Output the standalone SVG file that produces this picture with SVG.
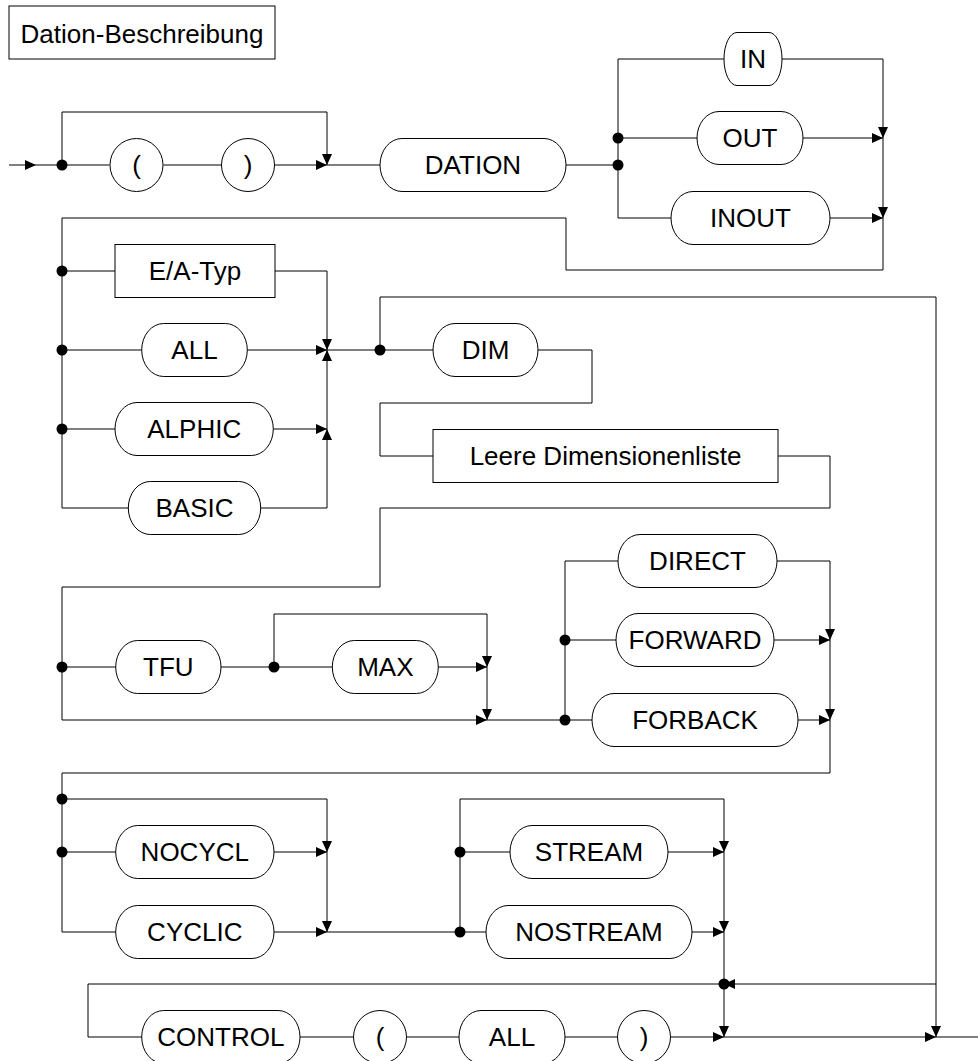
<svg xmlns="http://www.w3.org/2000/svg" width="978" height="1061" viewBox="0 0 978 1061">
  <style>
    .box { fill: #fff; stroke: #000; stroke-width: 1; }
    .lbl { font-family: "Liberation Sans", Arial, sans-serif; font-size: 26px; fill: #000; text-anchor: middle; }
    .ln { fill: none; stroke: #000; stroke-width: 1; }
    .ar { fill: none; stroke: #000; stroke-width: 1; marker-end: url(#tip); }
    .dot { fill: #000; }
  </style>
  <defs>
    <marker id="tip" viewBox="0 0 10 10" refX="10" refY="5" markerWidth="11" markerHeight="10" preserveAspectRatio="none" markerUnits="userSpaceOnUse" orient="auto">
      <path d="M0,0 L10,5 L0,10 z" fill="#000"/>
    </marker>
  </defs>

  <rect width="978" height="1061" fill="#fff"/>

  <!-- connectors -->
  <g id="connectors">
    <!-- row 1: optional parentheses, DATION, direction -->
    <path class="ar" d="M9,165 H36"/>
    <path class="ln" d="M36,165 H109.5"/>
    <path class="ar" d="M62,165 V112 H327 V165"/>
    <path class="ln" d="M163.5,165 H221.5"/>
    <path class="ar" d="M274.5,165 H327"/>
    <path class="ln" d="M327,165 H380"/>
    <path class="ln" d="M566,165 H618"/>
    <path class="ln" d="M618,59 V218"/>
    <path class="ln" d="M618,59 H724"/>
    <path class="ar" d="M782,59 H883 V138"/>
    <path class="ln" d="M618,138 H697"/>
    <path class="ar" d="M803,138 H883"/>
    <path class="ar" d="M883,138 V218"/>
    <path class="ln" d="M618,218 H671"/>
    <path class="ar" d="M830,218 H883"/>
    <path class="ln" d="M883,218 V270 H566 V218 H62 V508 H128.3"/>

    <!-- device type choice -->
    <path class="ln" d="M62,271 H115"/>
    <path class="ar" d="M275,271 H327 V350"/>
    <path class="ln" d="M62,350 H141.7"/>
    <path class="ar" d="M247.3,350 H327"/>
    <path class="ln" d="M62,429 H115"/>
    <path class="ar" d="M273.3,429 H327"/>
    <path class="ar" d="M260.7,508 H327 V429"/>
    <path class="ar" d="M327,429 V350"/>
    <path class="ln" d="M327,350 H433"/>

    <!-- dimension part and long bypass -->
    <path class="ar" d="M380,350 V297 H936 V1037"/>
    <path class="ln" d="M538,350 H592 V403 H380 V456 H433"/>
    <path class="ln" d="M778,456 H830 V508 H380 V587 H62 V720"/>

    <!-- TFU / MAX -->
    <path class="ln" d="M62,667 H115.7"/>
    <path class="ln" d="M221,667 H332.3"/>
    <path class="ar" d="M274,667 V614 H487 V667"/>
    <path class="ar" d="M438.3,667 H487"/>
    <path class="ar" d="M487,667 V720"/>
    <path class="ar" d="M62,720 H487"/>
    <path class="ln" d="M487,720 H592"/>

    <!-- access mode -->
    <path class="ln" d="M565,720 V561 H618"/>
    <path class="ln" d="M565,640 H616"/>
    <path class="ar" d="M777,561 H830 V640"/>
    <path class="ar" d="M774,640 H830"/>
    <path class="ar" d="M830,640 V720"/>
    <path class="ar" d="M798,720 H830"/>
    <path class="ln" d="M830,720 V773 H62 V932 H115.7"/>

    <!-- cycle option -->
    <path class="ar" d="M62,799 H327 V852"/>
    <path class="ln" d="M62,852 H115.7"/>
    <path class="ar" d="M274,852 H327"/>
    <path class="ar" d="M327,852 V932"/>
    <path class="ar" d="M274,932 H327"/>
    <path class="ln" d="M327,932 H486"/>

    <!-- stream option -->
    <path class="ar" d="M460,932 V799 H724 V852"/>
    <path class="ln" d="M460,852 H510"/>
    <path class="ar" d="M668,852 H724"/>
    <path class="ar" d="M724,852 V932"/>
    <path class="ar" d="M692,932 H724"/>
    <path class="ar" d="M724,932 V1037"/>

    <!-- control part -->
    <path class="ar" d="M936,984 H724"/>
    <path class="ln" d="M724,984 H88 V1037 H141.7"/>
    <path class="ln" d="M300,1037 H353.5"/>
    <path class="ln" d="M406.5,1037 H459"/>
    <path class="ln" d="M565,1037 H617.5"/>
    <path class="ar" d="M670.5,1037 H724"/>
    <path class="ar" d="M724,1037 H936"/>
    <path class="ln" d="M936,1037 H978"/>

    <!-- junction points -->
    <circle class="dot" cx="62" cy="165" r="5.5"/>
    <circle class="dot" cx="618" cy="138" r="5.5"/>
    <circle class="dot" cx="618" cy="165" r="5.5"/>
    <circle class="dot" cx="62" cy="271" r="5.5"/>
    <circle class="dot" cx="62" cy="350" r="5.5"/>
    <circle class="dot" cx="62" cy="429" r="5.5"/>
    <circle class="dot" cx="380" cy="350" r="5.5"/>
    <circle class="dot" cx="62" cy="667" r="5.5"/>
    <circle class="dot" cx="274" cy="667" r="5.5"/>
    <circle class="dot" cx="565" cy="640" r="5.5"/>
    <circle class="dot" cx="565" cy="720" r="5.5"/>
    <circle class="dot" cx="62" cy="799" r="5.5"/>
    <circle class="dot" cx="62" cy="852" r="5.5"/>
    <circle class="dot" cx="460" cy="852" r="5.5"/>
    <circle class="dot" cx="460" cy="932" r="5.5"/>
    <circle class="dot" cx="724" cy="984" r="5.5"/>
  </g>

  <!-- nodes -->
  <g id="title"><rect class="box" x="9" y="6" width="266" height="53"/><text class="lbl" x="142" y="43">Dation-Beschreibung</text></g>

  <g id="paren-open-1"><circle class="box" cx="136.5" cy="165" r="26.5"/><text class="lbl" x="136.5" y="174.3">(</text></g>
  <g id="paren-close-1"><circle class="box" cx="248" cy="165" r="26.5"/><text class="lbl" x="248" y="174.3">)</text></g>
  <g id="dation"><rect class="box" x="380" y="138.5" width="186" height="53" rx="22" ry="26.5"/><text class="lbl" x="473" y="174.3">DATION</text></g>
  <g id="in"><rect class="box" x="724" y="32.5" width="58" height="53" rx="13" ry="26.5"/><text class="lbl" x="753" y="68.3">IN</text></g>
  <g id="out"><rect class="box" x="697" y="111.5" width="106" height="53" rx="22" ry="26.5"/><text class="lbl" x="750" y="147.3">OUT</text></g>
  <g id="inout"><rect class="box" x="671" y="191.5" width="159" height="53" rx="22" ry="26.5"/><text class="lbl" x="750.5" y="227.3">INOUT</text></g>

  <g id="ea-typ"><rect class="box" x="115" y="244.5" width="160" height="53"/><text class="lbl" x="195" y="280.3">E/A-Typ</text></g>
  <g id="all-1"><rect class="box" x="141.7" y="323.5" width="105.6" height="53" rx="22" ry="26.5"/><text class="lbl" x="194.5" y="359.3">ALL</text></g>
  <g id="alphic"><rect class="box" x="115" y="402.5" width="158.3" height="53" rx="22" ry="26.5"/><text class="lbl" x="194.2" y="438.3">ALPHIC</text></g>
  <g id="basic"><rect class="box" x="128.3" y="481.5" width="132.4" height="53" rx="22" ry="26.5"/><text class="lbl" x="194.5" y="517.3">BASIC</text></g>

  <g id="dim"><rect class="box" x="433" y="323.5" width="105" height="53" rx="22" ry="26.5"/><text class="lbl" x="485.5" y="359.3">DIM</text></g>
  <g id="leere-dimensionenliste"><rect class="box" x="433" y="429.5" width="345" height="53"/><text class="lbl" x="605.5" y="465.3">Leere Dimensionenliste</text></g>

  <g id="tfu"><rect class="box" x="115.7" y="640.5" width="105.3" height="53" rx="22" ry="26.5"/><text class="lbl" x="168.3" y="676.3">TFU</text></g>
  <g id="max"><rect class="box" x="332.3" y="640.5" width="106" height="53" rx="22" ry="26.5"/><text class="lbl" x="385.3" y="676.3">MAX</text></g>

  <g id="direct"><rect class="box" x="618" y="534.5" width="159" height="53" rx="22" ry="26.5"/><text class="lbl" x="697.5" y="570.3">DIRECT</text></g>
  <g id="forward"><rect class="box" x="616" y="613.5" width="158" height="53" rx="22" ry="26.5"/><text class="lbl" x="695" y="649.3">FORWARD</text></g>
  <g id="forback"><rect class="box" x="592" y="693.5" width="206" height="53" rx="22" ry="26.5"/><text class="lbl" x="695" y="729.3">FORBACK</text></g>

  <g id="nocycl"><rect class="box" x="115.7" y="825.5" width="158.3" height="53" rx="22" ry="26.5"/><text class="lbl" x="194.8" y="861.3">NOCYCL</text></g>
  <g id="cyclic"><rect class="box" x="115.7" y="905.5" width="158.3" height="53" rx="22" ry="26.5"/><text class="lbl" x="194.8" y="941.3">CYCLIC</text></g>
  <g id="stream"><rect class="box" x="510" y="825.5" width="158" height="53" rx="22" ry="26.5"/><text class="lbl" x="589" y="861.3">STREAM</text></g>
  <g id="nostream"><rect class="box" x="486" y="905.5" width="206" height="53" rx="22" ry="26.5"/><text class="lbl" x="589" y="941.3">NOSTREAM</text></g>

  <g id="control"><rect class="box" x="141.7" y="1010.5" width="158.3" height="53" rx="22" ry="26.5"/><text class="lbl" x="220.8" y="1046.3">CONTROL</text></g>
  <g id="paren-open-2"><circle class="box" cx="380" cy="1037" r="26.5"/><text class="lbl" x="380" y="1046.3">(</text></g>
  <g id="all-2"><rect class="box" x="459" y="1010.5" width="106" height="53" rx="22" ry="26.5"/><text class="lbl" x="512" y="1046.3">ALL</text></g>
  <g id="paren-close-2"><circle class="box" cx="644" cy="1037" r="26.5"/><text class="lbl" x="644" y="1046.3">)</text></g>
</svg>
